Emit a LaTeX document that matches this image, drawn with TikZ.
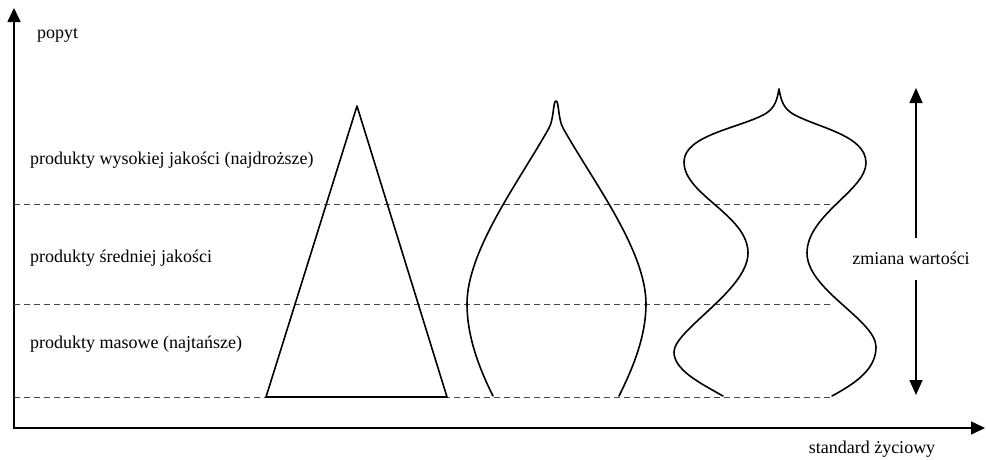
\documentclass[tikz,border=0pt]{standalone}
\usepackage{fontspec}
\setmainfont{Liberation Serif}
\usepackage{tikz}
\usetikzlibrary{
  arrows.meta,
  positioning
}
\definecolor{InkBlack}{RGB}{0,0,0}
\definecolor{DashGray}{RGB}{70,70,70}
\tikzset{
  axisline/.style={{Triangle[length=14pt,width=13pt]}-{Triangle[length=14pt,width=13pt]},line width=1.6pt,draw=InkBlack},
  valarrow/.style={-{Triangle[length=15pt,width=13pt]},line width=1.6pt,draw=InkBlack},
  levelline/.style={dash pattern=on 6pt off 4pt,line width=1pt,draw=DashGray},
  profile/.style={line width=1.6pt,draw=InkBlack,line join=round,line cap=round},
  lvltext/.style={anchor=west,inner sep=0pt,font=\fontsize{18}{21}\selectfont},
  axtext/.style={inner sep=0pt,font=\fontsize{18}{21}\selectfont}
}
\begin{document}
\begin{tikzpicture}[x=1pt,y=-1pt]
\useasboundingbox (0,0) rectangle (986,459);
% axes
\coordinate (origin) at (14,428);
\coordinate (ytip) at (14,8);
\coordinate (xtip) at (985,428);
\draw[axisline] (ytip) -- (origin) -- (xtip);
\node[lvltext] (popyt) at (37,35) {popyt};
\node[axtext] (standard) at (872,449) {standard życiowy};

% levels
\coordinate (l1a) at (14,204);  \coordinate (l1b) at (832,204);
\coordinate (l2a) at (14,304);  \coordinate (l2b) at (832,304);
\coordinate (l3a) at (14,397);  \coordinate (l3b) at (832,397);
\draw[levelline] (l1a) -- (l1b);
\draw[levelline] (l2a) -- (l2b);
\draw[levelline] (l3a) -- (l3b);
\node[lvltext] (wysokie) at (30,160) {produkty wysokiej jakości (najdroższe)};
\node[lvltext] (srednie) at (30,258) {produkty średniej jakości};
\node[lvltext] (masowe) at (30,344) {produkty masowe (najtańsze)};

% pyramid
\draw[profile] (266,397) -- (357,106) -- (447,397) -- cycle;

% drop
\draw[profile] (493,396) .. controls (478,366) and (467,335) .. (467,304)
  .. controls (467,250) and (520,180) .. (549,128)
  .. controls (554,119) and (553,101) .. (556,101)
  .. controls (559,101) and (558,119) .. (563,128)
  .. controls (592,180) and (646,250) .. (646,304)
  .. controls (646,335) and (634,366) .. (619,396);

% onion
\draw[profile] (723,396) .. controls (700,383) and (674,370) .. (674,352)
  .. controls (674,330) and (748,290) .. (748,253)
  .. controls (748,215) and (684,195) .. (684,162)
  .. controls (684,135) and (740,128) .. (765,114)
  .. controls (775,108) and (777,100) .. (779,89)
  .. controls (781,100) and (783,108) .. (793,114)
  .. controls (818,128) and (866,135) .. (866,163)
  .. controls (866,190) and (807,215) .. (807,253)
  .. controls (807,290) and (876,320) .. (876,347)
  .. controls (876,368) and (858,382) .. (832,396);

% value change
\node[axtext] (zmiana) at (911,258) {zmiana wartości};
\coordinate (vtop) at (916,88);
\coordinate (vbot) at (916,395);
\coordinate (gaptop) at (916,238);
\coordinate (gapbot) at (916,280);
\draw[valarrow] (gaptop) -- (vtop);
\draw[valarrow] (gapbot) -- (vbot);
\end{tikzpicture}
\end{document}
